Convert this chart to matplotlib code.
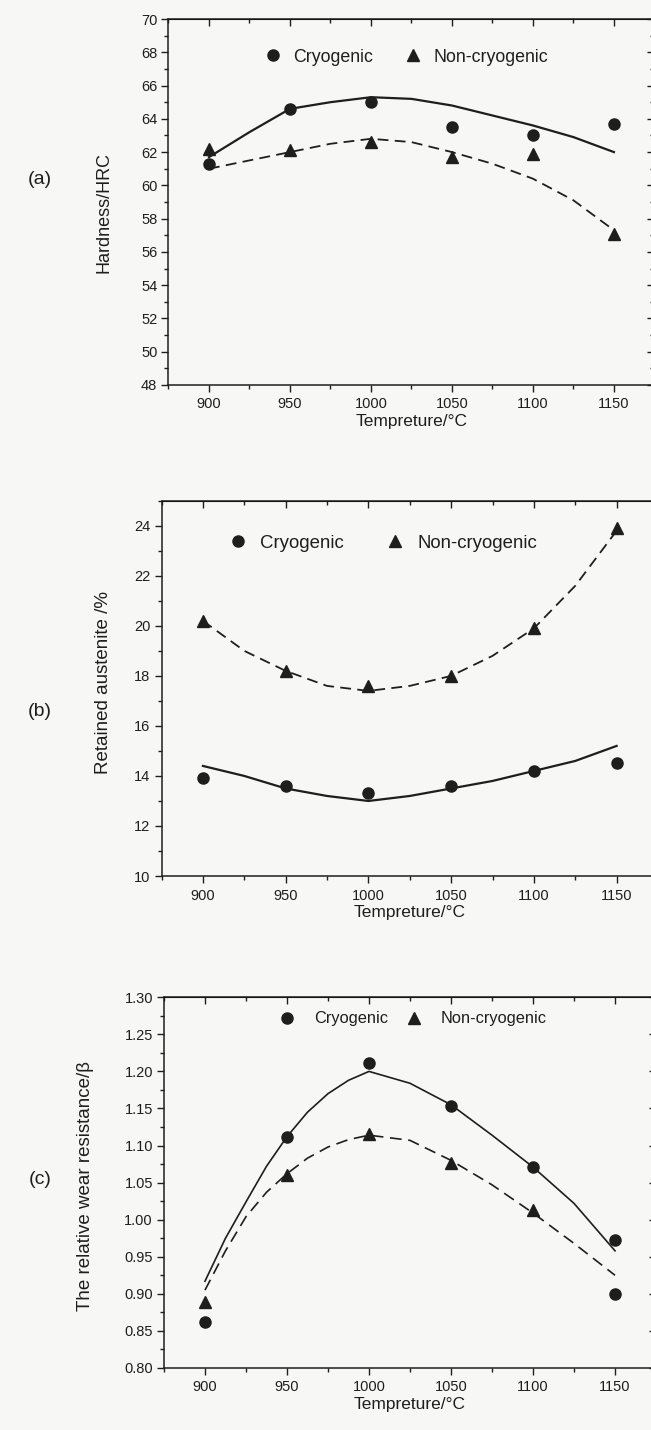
import matplotlib
matplotlib.use('Agg')
import matplotlib.pyplot as plt
from matplotlib.lines import Line2D
from matplotlib.ticker import MultipleLocator, FormatStrFormatter

plt.rcParams['font.family'] = ['Liberation Sans', 'DejaVu Sans']

INK = '#1e1e1e'
BG = '#f7f7f5'

# quench temperatures of the measured samples
temps = [900, 950, 1000, 1050, 1100, 1150]
fit_temps = [900, 925, 950, 975, 1000, 1025, 1050, 1075, 1100, 1125, 1150]
fit_temps_c = [900, 912.5, 925, 937.5, 950, 962.5, 975, 987.5, 1000,
               1025, 1050, 1075, 1100, 1125, 1150]

# (a) hardness, HRC
hard_cryo = [61.3, 64.6, 65.0, 63.5, 63.0, 63.7]
hard_non = [62.2, 62.1, 62.6, 61.7, 61.9, 57.1]
hard_cryo_fit = [61.7, 63.2, 64.6, 65.0, 65.3, 65.2, 64.8, 64.2, 63.6, 62.9, 62.0]
hard_non_fit = [61.0, 61.5, 62.0, 62.5, 62.8, 62.6, 62.0, 61.3, 60.4, 59.1, 57.3]

# (b) retained austenite, %
ra_cryo = [13.9, 13.6, 13.3, 13.6, 14.2, 14.5]
ra_non = [20.2, 18.2, 17.6, 18.0, 19.9, 23.9]
ra_cryo_fit = [14.4, 14.0, 13.5, 13.2, 13.0, 13.2, 13.5, 13.8, 14.2, 14.6, 15.2]
ra_non_fit = [20.2, 19.0, 18.2, 17.6, 17.4, 17.6, 18.0, 18.8, 19.9, 21.6, 23.8]

# (c) relative wear resistance
wear_cryo = [0.862, 1.112, 1.212, 1.153, 1.071, 0.972]
wear_non = [0.889, 1.060, 1.116, 1.076, 1.013, 0.900]
wear_non_markers = ['^', '^', '^', '^', '^', 'o']
wear_cryo_fit = [0.917, 0.975, 1.024, 1.072, 1.112, 1.145, 1.170, 1.188, 1.200,
                 1.184, 1.155, 1.114, 1.071, 1.022, 0.958]
wear_non_fit = [0.905, 0.958, 1.004, 1.037, 1.062, 1.083, 1.098, 1.108, 1.114,
                1.107, 1.080, 1.047, 1.009, 0.968, 0.925]


def style_axes(ax, ylim, ymajor, yminor, yfmt):
    ax.set_facecolor(BG)
    ax.set_xlim(875, 1175)
    ax.set_ylim(*ylim)
    ax.xaxis.set_major_locator(MultipleLocator(50))
    ax.xaxis.set_minor_locator(MultipleLocator(25))
    ax.yaxis.set_major_locator(MultipleLocator(ymajor))
    ax.yaxis.set_minor_locator(MultipleLocator(yminor))
    ax.yaxis.set_major_formatter(FormatStrFormatter(yfmt))
    for s in ax.spines.values():
        s.set_linewidth(1.1)
        s.set_color(INK)
    ax.tick_params(which='both', direction='out', colors=INK, width=1.0,
                   top=False, right=False)
    ax.tick_params(which='major', length=5)
    ax.tick_params(which='minor', length=3)
    ax.tick_params(axis='x', labelsize=10.5, pad=4)
    ax.tick_params(axis='y', labelsize=10.5, pad=3)
    # inward ticks on the top and right frame
    sec_x = ax.secondary_xaxis('top')
    sec_x.xaxis.set_major_locator(MultipleLocator(50))
    sec_x.xaxis.set_minor_locator(MultipleLocator(25))
    sec_x.tick_params(which='both', direction='in', labeltop=False, colors=INK, width=1.0)
    sec_x.tick_params(which='major', length=5)
    sec_x.tick_params(which='minor', length=3)
    sec_y = ax.secondary_yaxis('right')
    sec_y.yaxis.set_major_locator(MultipleLocator(ymajor))
    sec_y.yaxis.set_minor_locator(MultipleLocator(yminor))
    sec_y.tick_params(which='both', direction='in', labelright=False, colors=INK, width=1.0)
    sec_y.tick_params(which='major', length=5)
    sec_y.tick_params(which='minor', length=3)


def add_legend(ax, anchor, fs, pad, colspace):
    handles = [Line2D([], [], marker='o', ls='none', color=INK, ms=8),
               Line2D([], [], marker='^', ls='none', color=INK, ms=9)]
    leg = ax.legend(handles, ['Cryogenic', 'Non-cryogenic'], ncol=2, loc='center',
                    bbox_to_anchor=anchor, frameon=False, fontsize=fs,
                    handlelength=0.8, handletextpad=pad, columnspacing=colspace,
                    borderpad=0, borderaxespad=0)
    for t in leg.get_texts():
        t.set_color(INK)


fig = plt.figure(figsize=(6.51, 14.3), dpi=100)
fig.patch.set_facecolor(BG)

# axes boxes in figure fractions
ax_a = fig.add_axes([0.2588, 0.7308, 0.7465, 0.2559])
ax_b = fig.add_axes([0.2482, 0.3874, 0.7625, 0.2624])
ax_c = fig.add_axes([0.2519, 0.0434, 0.7558, 0.2592])

# (a)
ax_a.plot(fit_temps, hard_cryo_fit, '-', color=INK, lw=1.6)
ax_a.plot(fit_temps, hard_non_fit, '--', color=INK, lw=1.3, dashes=(6, 3.5))
ax_a.plot(temps, hard_cryo, 'o', color=INK, ms=8, ls='none')
ax_a.plot(temps, hard_non, '^', color=INK, ms=9, ls='none')
style_axes(ax_a, (48, 70), 2, 1, '%d')
ax_a.set_xlabel('Tempreture/°C', fontsize=12.5, color=INK, labelpad=2)
ax_a.set_ylabel('Hardness/HRC', fontsize=13, color=INK)
ax_a.yaxis.set_label_coords(-0.116, 0.47)
add_legend(ax_a, (0.491, 0.896), 12.8, 0.72, 1.85)

# (b)
ax_b.plot(fit_temps, ra_cryo_fit, '-', color=INK, lw=1.6)
ax_b.plot(fit_temps, ra_non_fit, '--', color=INK, lw=1.3, dashes=(6, 3.5))
ax_b.plot(temps, ra_cryo, 'o', color=INK, ms=8, ls='none')
ax_b.plot(temps, ra_non, '^', color=INK, ms=9, ls='none')
style_axes(ax_b, (10, 25), 2, 1, '%d')
ax_b.set_xlabel('Tempreture/°C', fontsize=12.5, color=INK, labelpad=2)
ax_b.set_ylabel('Retained austenite /%', fontsize=13.5, color=INK)
ax_b.yaxis.set_label_coords(-0.1, 0.517)
add_legend(ax_b, (0.448, 0.887), 13.4, 0.78, 2.34)

# (c)
ax_c.plot(fit_temps_c, wear_cryo_fit, '-', color=INK, lw=1.2)
ax_c.plot(fit_temps_c, wear_non_fit, '--', color=INK, lw=1.2, dashes=(7, 4))
ax_c.plot(temps, wear_cryo, 'o', color=INK, ms=8, ls='none')
for t, v, m in zip(temps, wear_non, wear_non_markers):
    ax_c.plot([t], [v], m, color=INK, ms=9 if m == '^' else 8, ls='none')
style_axes(ax_c, (0.80, 1.30), 0.05, 0.025, '%.2f')
ax_c.set_xlabel('Tempreture/°C', fontsize=12.5, color=INK, labelpad=2)
ax_c.set_ylabel('The relative wear resistance/β', fontsize=13.5, color=INK)
ax_c.yaxis.set_label_coords(-0.142, 0.49)
add_legend(ax_c, (0.507, 0.9415), 11.8, 1.25, 1.18)

# panel letters
for label, ypix in [('(a)', 180), ('(b)', 712), ('(c)', 1180)]:
    fig.text(40 / 651, 1 - ypix / 1430, label, fontsize=14, color=INK,
             ha='center', va='center')

fig.savefig('out.png', dpi=100, facecolor=BG)
